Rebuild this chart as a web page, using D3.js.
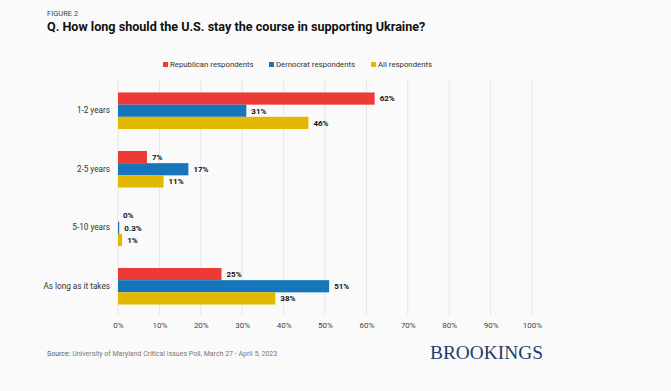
<!DOCTYPE html>
<html>
<head>
<meta charset="utf-8">
<script src="https://cdn.jsdelivr.net/npm/d3@7"></script>
<style>
  body { margin: 0; background: #fafafa; }
  svg { display: block; font-family: Roboto, sans-serif; }
</style>
</head>
<body>
<div id="chart"></div>
<script>
var categories = ["1-2 years", "2-5 years", "5-10 years", "As long as it takes"];
var republican = [62, 7, 0, 25];
var democrat = [31, 17, 0.3, 51];
var allResp = [46, 11, 1, 38];
var seriesNames = ["Republican respondents", "Democrat respondents", "All respondents"];
var seriesColors = ["#ee3a37", "#1776bb", "#e2b900"];
var xTicks = [0, 10, 20, 30, 40, 50, 60, 70, 80, 90, 100];

var series = [republican, democrat, allResp];

var width = 671, height = 391;

var svg = d3.select("#chart").append("svg")
  .attr("width", width)
  .attr("height", height);

svg.append("rect")
  .attr("width", width)
  .attr("height", height)
  .attr("fill", "#fafafa");

// heading
svg.append("text")
  .attr("x", 47)
  .attr("y", 16)
  .attr("font-size", 7.5)
  .attr("fill", "#444")
  .text("FIGURE 2");

svg.append("text")
  .attr("x", 47)
  .attr("y", 30.5)
  .attr("font-size", 12.6)
  .attr("font-weight", "bold")
  .attr("fill", "#111")
  .text("Q. How long should the U.S. stay the course in supporting Ukraine?");

// scales
var x = d3.scaleLinear().domain([0, 100]).range([118, 532]);

var y0 = d3.scaleBand()
  .domain(categories)
  .range([81.5, 315.5])
  .paddingInner(0.375)
  .paddingOuter(0.1875);

var y1 = d3.scaleBand()
  .domain(d3.range(series.length))
  .range([0, y0.bandwidth()]);

// gridlines
svg.append("g")
  .selectAll("line")
  .data(xTicks)
  .enter().append("line")
  .attr("x1", function(d) { return x(d); })
  .attr("x2", function(d) { return x(d); })
  .attr("y1", 80)
  .attr("y2", 315)
  .attr("stroke", "#e6e6e6")
  .attr("stroke-width", 1);

// x axis labels
var xAxis = d3.axisBottom(x)
  .tickValues(xTicks)
  .tickFormat(function(d) { return d + "%"; })
  .tickSize(0)
  .tickPadding(0);

var gx = svg.append("g")
  .attr("transform", "translate(0,322)")
  .call(xAxis);
gx.select(".domain").remove();
gx.selectAll("text")
  .attr("font-size", 8)
  .attr("font-family", "Roboto, sans-serif")
  .attr("fill", "#444");

// category labels
var yAxis = d3.axisLeft(y0).tickSize(0).tickPadding(0);
var gy = svg.append("g")
  .attr("transform", "translate(110,0)")
  .call(yAxis);
gy.select(".domain").remove();
gy.selectAll("text")
  .attr("font-size", 8.2)
  .attr("font-family", "Roboto, sans-serif")
  .attr("fill", "#333");

// bars
var groups = svg.append("g")
  .selectAll("g")
  .data(categories)
  .enter().append("g")
  .attr("transform", function(d) { return "translate(0," + y0(d) + ")"; });

groups.selectAll("rect")
  .data(function(d, i) {
    return series.map(function(s, j) { return { s: j, v: s[i] }; });
  })
  .enter().append("rect")
  .attr("x", x(0))
  .attr("y", function(d) { return y1(d.s); })
  .attr("width", function(d) { return x(d.v) - x(0); })
  .attr("height", y1.bandwidth())
  .attr("fill", function(d) { return seriesColors[d.s]; });

groups.selectAll("text")
  .data(function(d, i) {
    return series.map(function(s, j) { return { s: j, v: s[i] }; });
  })
  .enter().append("text")
  .attr("x", function(d) { return x(d.v) + 5; })
  .attr("y", function(d) { return y1(d.s) + y1.bandwidth() / 2; })
  .attr("dy", "0.35em")
  .attr("font-size", 8)
  .attr("font-weight", "bold")
  .attr("fill", "#111")
  .text(function(d) { return d.v + "%"; });

// legend
var legendX = [163, 269, 371];
var legend = svg.append("g")
  .selectAll("g")
  .data(seriesNames)
  .enter().append("g")
  .attr("transform", function(d, i) { return "translate(" + legendX[i] + ",64.5)"; });

legend.append("rect")
  .attr("x", 0)
  .attr("y", -2.5)
  .attr("width", 5)
  .attr("height", 5)
  .attr("fill", function(d, i) { return seriesColors[i]; });

legend.append("text")
  .attr("x", 7)
  .attr("dy", "0.35em")
  .attr("font-size", 7.8)
  .attr("fill", "#333")
  .text(function(d) { return d; });

// footer
var source = svg.append("text")
  .attr("x", 47)
  .attr("y", 356)
  .attr("font-size", 7)
  .attr("fill", "#777");
source.append("tspan").attr("fill", "#555").text("Source: ");
source.append("tspan").text("University of Maryland Critical Issues Poll, March 27 - April 5, 2023");

svg.append("text")
  .attr("x", 430)
  .attr("y", 359)
  .attr("font-family", "'Liberation Serif', 'DejaVu Serif', serif")
  .attr("font-size", 19)
  .attr("fill", "#1d3c6e")
  .attr("textLength", 113)
  .attr("lengthAdjust", "spacingAndGlyphs")
  .text("BROOKINGS");
</script>
</body>
</html>
